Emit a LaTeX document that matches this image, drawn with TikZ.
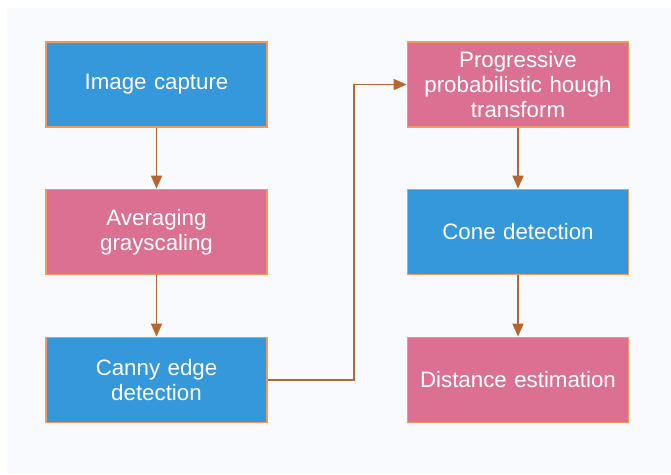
\documentclass[tikz,border=0pt]{standalone}
\usepackage{fontspec}
\setmainfont{Liberation Sans}
\usetikzlibrary{arrows.meta}
\definecolor{panel}{HTML}{F8FAFE}
\definecolor{boxblue}{HTML}{3598DB}
\definecolor{boxpink}{HTML}{DB7093}
\definecolor{boxedge}{HTML}{F39A5B}
\definecolor{flow}{HTML}{B8662F}
\tikzset{
  stage/.style={draw=boxedge, line width=1.8pt, minimum width=221pt, minimum height=85pt,
    inner sep=0pt, align=center, text=white, text width=215pt,
    font=\fontsize{22.3pt}{25.4pt}\selectfont},
  bluebox/.style={stage, fill=boxblue},
  pinkbox/.style={stage, fill=boxpink},
  link/.style={draw=flow, line width=1.6pt, -{Triangle[length=13pt,width=11pt]}}
}
\begin{document}
\begin{tikzpicture}[x=1pt,y=-1pt]
  \useasboundingbox (0,0) rectangle (671,474);
  \fill[white] (0,0) rectangle (671,474);
  \fill[panel] (7,8) rectangle (671,474);
  % left column
  \node[bluebox] (capture) at (156.5,84.5) {Image capture};
  \node[pinkbox] (gray) at (156.5,232) {Averaging\\grayscaling};
  \node[bluebox] (canny) at (156.5,380) {Canny edge\\detection};
  % right column
  \node[pinkbox] (hough) at (518,84.5) {Progressive\\probabilistic hough\\transform};
  \node[bluebox] (cone) at (518,232) {Cone detection};
  \node[pinkbox] (dist) at (518,380) {Distance estimation};
  % connectors
  \coordinate (bendlow) at (354,380);
  \coordinate (bendhigh) at (354,84.5);
  \draw[link] (capture) -- (gray);
  \draw[link] (gray) -- (canny);
  \draw[link] (canny.east) -- (bendlow) -- (bendhigh) -- (hough.west);
  \draw[link] (hough) -- (cone);
  \draw[link] (cone) -- (dist);
\end{tikzpicture}
\end{document}
